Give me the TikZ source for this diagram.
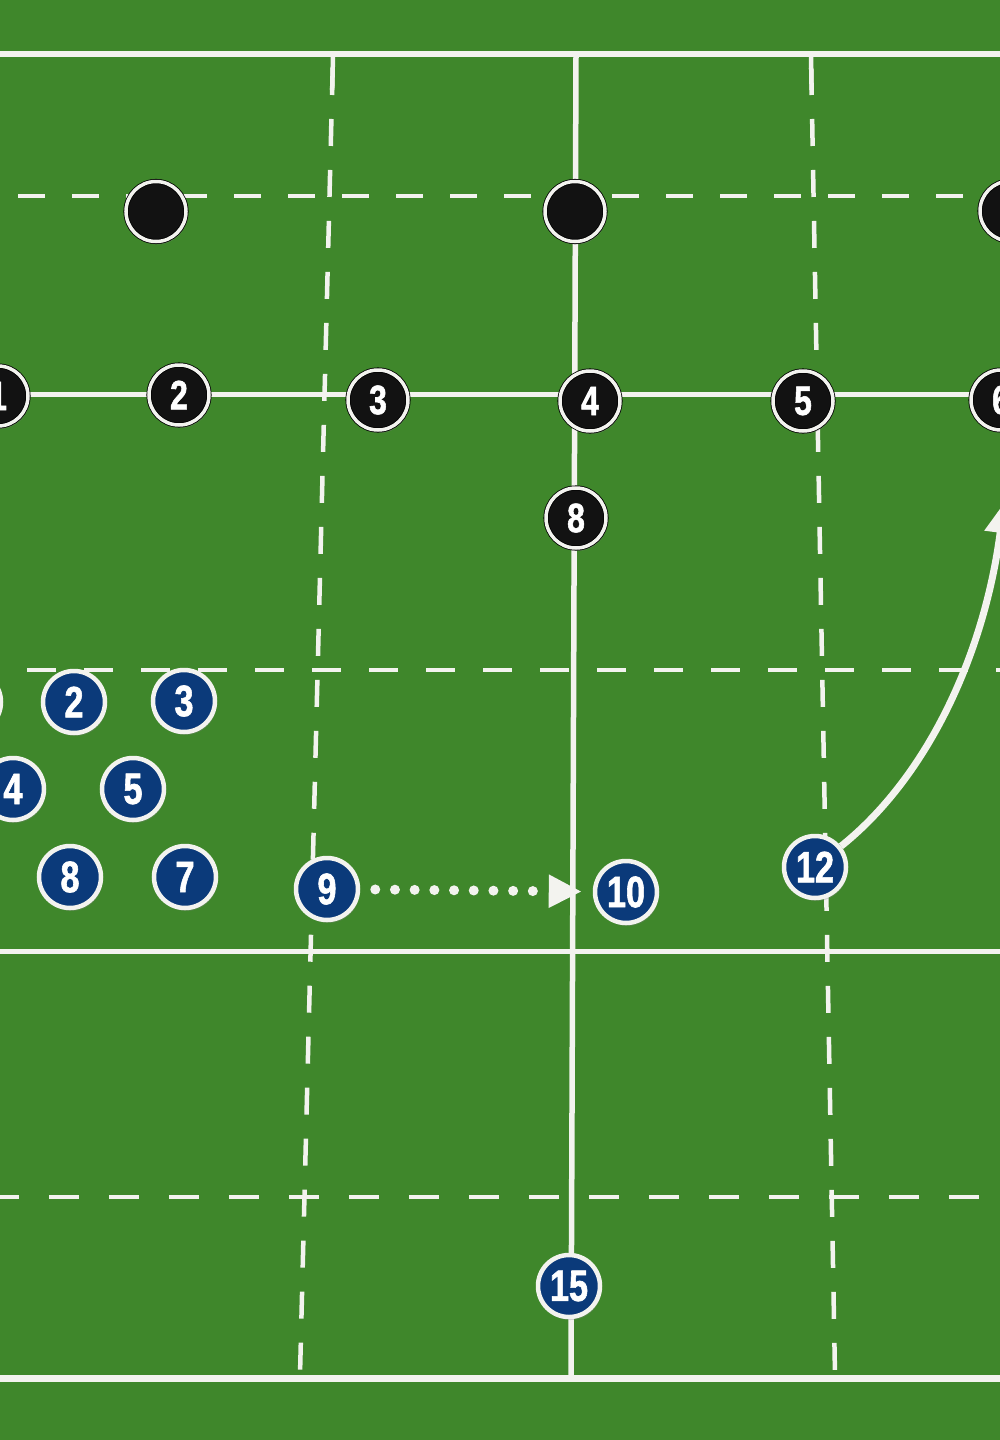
\documentclass[tikz,border=0pt]{standalone}
\usepackage{fontspec}
\newfontfamily\numfont[FakeStretch=0.78, BoldFeatures={FakeBold=1.3}]{Liberation Sans}
\usetikzlibrary{arrows.meta,shadows}
\definecolor{grass}{HTML}{3F872B}
\definecolor{linecol}{HTML}{F3F3EF}
\definecolor{navy}{HTML}{0B3A7A}
\definecolor{blackfill}{HTML}{121212}
\tikzset{
  solidline/.style={draw=linecol, line width=#1},
  dashline/.style={draw=linecol, line width=4.5pt},
  blackplayer/.style={circle, fill=blackfill, draw=black, line width=0.8pt,
    double=linecol, double distance=3.5pt, minimum size=60pt, inner sep=0pt,
    text=white, font=\numfont\bfseries\fontsize{41}{41}\selectfont,
    drop shadow={opacity=0.3, shadow xshift=1.5pt, shadow yshift=-3pt}},
  blueplayer/.style={circle, fill=navy, draw=linecol, line width=4.5pt,
    minimum size=62pt, inner sep=0pt,
    text=white, font=\numfont\bfseries\fontsize{44}{44}\selectfont,
    drop shadow={opacity=0.3, shadow xshift=1.5pt, shadow yshift=-3pt}},
  dotrun/.style={draw=linecol, line width=10pt, line cap=round,
    dash pattern=on 0pt off 19.7pt,
    -{Triangle[length=33pt, width=31pt, fill=linecol]}},
  curverun/.style={draw=linecol, line width=7pt,
    -{Triangle[length=30pt, width=30pt, fill=linecol]}}
}
\begin{document}
\begin{tikzpicture}[x=1pt, y=-1pt]
\useasboundingbox (0,0) rectangle (1000,1440);
\clip (0,0) rectangle (1000,1440);
\fill[grass] (0,0) rectangle (1000,1440);

% solid field lines
\draw[solidline=6pt] (0,53.5) -- (1000,53.5);
\draw[solidline=7pt] (0,1378) -- (1000,1378);
\draw[solidline=5pt] (0,951) -- (1000,951);
\draw[solidline=4.5pt] (0,394.5) -- (1000,394.5);
\draw[solidline=5.5pt] (576,56) -- (571,1375);

% dashed field lines
\draw[dashline, dash pattern=on 27pt off 27pt, dash phase=36pt] (0,196) -- (1000,196);
\draw[dashline, dash pattern=on 29pt off 28pt, dash phase=30pt] (0,670) -- (1000,670);
\draw[dashline, dash pattern=on 30pt off 30pt, dash phase=11pt] (0,1197) -- (1000,1197);
\draw[dashline, dash pattern=on 27pt off 24pt, dash phase=39pt] (333,56) -- (300,1375);
\draw[dashline, dash pattern=on 27pt off 24pt, dash phase=39pt] (811,56) -- (835,1375);
\draw[dashline] (333,56) -- (332.2,90);
\draw[dashline] (811,56) -- (811.6,90);

% black markers
\node[blackplayer] (k1) at (156,211.5) {};
\node[blackplayer] (k2) at (575,211.5) {};
\node[blackplayer] (k3) at (1010,211) {};

% black players
\node[blackplayer] (b1) at (-2,396) {1};
\node[blackplayer] (b2) at (179,395) {2};
\node[blackplayer] (b3) at (378,400) {3};
\node[blackplayer] (b4) at (590,401) {4};
\node[blackplayer] (b5) at (803,401) {5};
\node[blackplayer] (b6) at (1001,400) {6};
\node[blackplayer] (b8) at (576,518) {8};

% blue players
\node[blueplayer] (u1) at (-30,702) {1};
\node[blueplayer] (u2) at (74,702) {2};
\node[blueplayer] (u3) at (184,701) {3};
\node[blueplayer] (u4) at (13,789) {4};
\node[blueplayer] (u5) at (133,789) {5};
\node[blueplayer] (u8) at (70,877) {8};
\node[blueplayer] (u7) at (185,877) {7};
\node[blueplayer] (u9) at (327,889) {9};
\node[blueplayer] (u10) at (626,892) {10};
\node[blueplayer] (u12) at (815,867) {12};
\node[blueplayer] (u15) at (569,1286) {15};

% runs
\draw[dotrun, shorten <=15pt, shorten >=11pt] (u9) -- (u10);
\coordinate (tip12) at (1004,503);
\draw[curverun] (u12) .. controls (930,775) and (985,650) .. (tip12);
\end{tikzpicture}
\end{document}
